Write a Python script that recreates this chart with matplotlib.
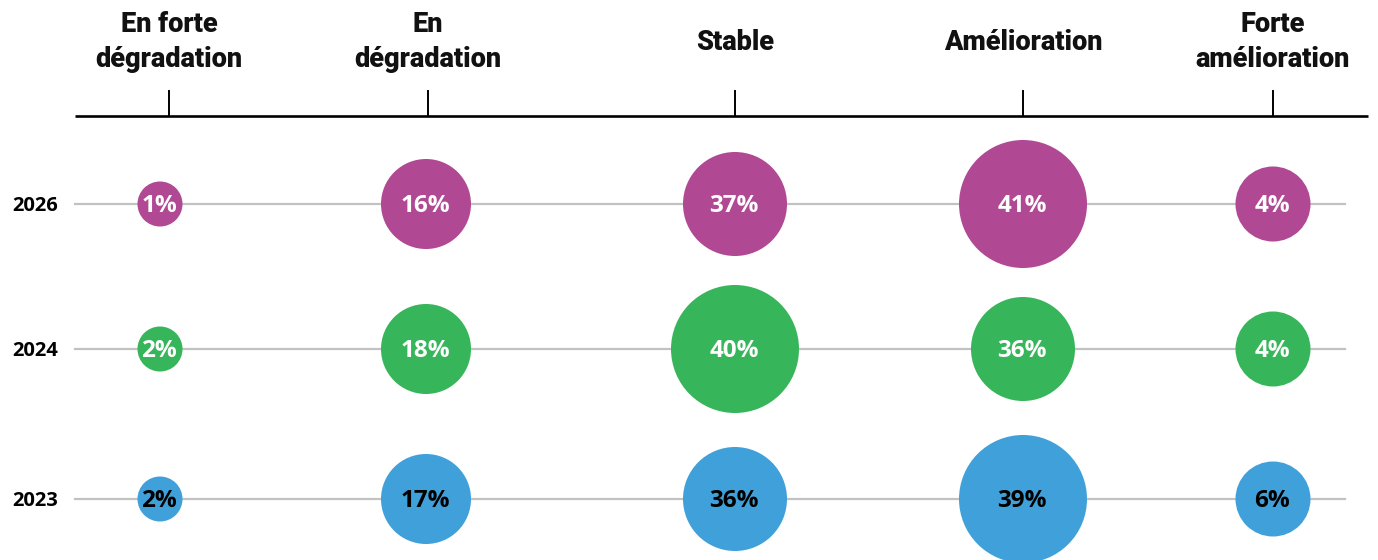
"""Bubble grid: perceived trend by year."""

import matplotlib.pyplot as plt
from matplotlib.patches import Circle

categories = ["En forte\ndégradation", "En\ndégradation", "Stable", "Amélioration", "Forte\namélioration"]
years = ["2026", "2024", "2023"]
values_2026 = [1, 16, 37, 41, 4]
values_2024 = [2, 18, 40, 36, 4]
values_2023 = [2, 17, 36, 39, 6]

# layout (pixel coordinates, y grows downward)
tick_x = [169, 428, 735, 1023, 1273]
bubble_x = [160, 426, 735, 1023, 1273]
row_y = [204, 349, 499]
row_colors = ["#B04894", "#37B55A", "#40A0DA"]
label_colors = ["white", "white", "black"]


def bubble_radius(v):
    # sizes are binned in the original chart
    if v < 3:
        return 22.5
    if v < 10:
        return 37.5
    if v < 25:
        return 45
    if v < 38:
        return 52
    return 64


fig = plt.figure(figsize=(13.78, 5.6), dpi=100)
ax = fig.add_axes([0, 0, 1, 1])
ax.set_xlim(0, 1378)
ax.set_ylim(560, 0)
ax.axis("off")

head_font = ["Roboto", "DejaVu Sans"]
body_font = ["Open Sans", "DejaVu Sans"]

# header axis line and ticks
ax.plot([75, 1368], [116, 116], color="black", linewidth=1.9, solid_capstyle="butt")
for x, cat in zip(tick_x, categories):
    ax.plot([x, x], [91, 116], color="black", linewidth=1.4)
    ax.text(x, 42, cat, ha="center", va="center", fontsize=19.5, fontweight=900,
            family=head_font, color="#111111", linespacing=1.4)

rows = [values_2026, values_2024, values_2023]
for y, year, vals, col, tcol in zip(row_y, years, rows, row_colors, label_colors):
    ax.plot([75, 1345], [y, y], color="#c2c2c2", linewidth=1.6, zorder=1)
    ax.text(35, y + 2, year, ha="center", va="center", fontsize=14.5, fontweight="bold",
            family=body_font, color="black")
    for x, v in zip(bubble_x, vals):
        ax.add_patch(Circle((x, y), bubble_radius(v), facecolor=col, edgecolor="none", zorder=2))
        ax.text(x - 1, y + 2, f"{v}%", ha="center", va="center", fontsize=17.5, fontweight="bold",
                family=body_font, color=tcol, zorder=3)

fig.savefig("out.png", dpi=100)
plt.close(fig)
